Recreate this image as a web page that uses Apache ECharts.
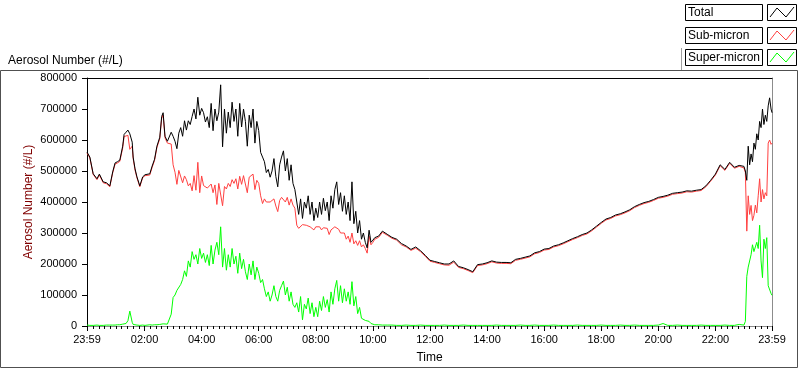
<!DOCTYPE html>
<html>
<head>
<meta charset="utf-8">
<title>Aerosol Number</title>
<script src="https://cdn.jsdelivr.net/npm/echarts@6.0.0/dist/echarts.min.js"></script>
<style>
  html, body { margin: 0; padding: 0; background: #fff; }
  #chart { width: 800px; height: 369px; }
</style>
</head>
<body>
<div id="chart"></div>
<script>
// time of each sample, minutes after midnight (-1 = 23:59 of the day before)
const minutes = [
  -1, 5, 12, 20, 25, 33, 40, 47, 53, 58,
  63, 68, 74, 77, 81, 85, 89, 94, 96, 100,
  104, 110, 116, 121, 125, 131, 136, 141, 146, 152,
  156, 159, 163, 168,
  172, 176, 180, 184, 188, 192, 196, 200, 204, 208,
  212, 216, 220, 224, 228, 232, 236, 240, 244, 248,
  252, 256, 260, 264, 268, 272, 276, 280, 284, 288,
  292, 296, 300, 304, 308, 312, 316, 320, 324, 328,
  332, 336, 340, 344, 348, 352, 356, 360, 364, 368,
  372, 376, 380, 384, 388, 392, 396, 400, 404, 408,
  412, 416, 420, 424, 428, 432, 436, 440, 444, 448,
  452, 456, 460, 464, 468, 472, 476, 480, 484, 488,
  492, 496, 500, 504, 508, 512, 516, 520, 524, 528,
  532, 536, 540, 544, 548, 552, 556, 560, 564, 568,
  572, 576, 580, 584, 588, 592, 596, 600, 604, 608,
  612, 616, 620,
  630, 640, 650, 660, 670, 680, 690, 700, 710, 720,
  730, 740, 750, 760, 770, 780, 790, 800, 810, 820,
  830, 840, 850, 860, 870, 880, 890, 900, 910, 920,
  930, 940, 950, 960, 970, 980, 990, 1000, 1010, 1020,
  1030, 1040, 1050, 1060, 1070, 1080, 1090, 1100, 1110, 1120,
  1130, 1140, 1150, 1160, 1170, 1180, 1190, 1200, 1210, 1220,
  1230, 1240, 1250, 1260, 1270, 1280, 1290, 1300, 1310, 1320,
  1330, 1340, 1350, 1360, 1370, 1380,
  1383, 1386, 1389, 1392, 1395, 1398, 1401, 1404, 1407, 1410,
  1413, 1416, 1419, 1422, 1425, 1428, 1431, 1434, 1437, 1439
];

// values in thousands of particles per litre
const totalK = [
  561, 545, 491, 475, 490, 465, 462, 452, 497, 526,
  530, 535, 580, 618, 625, 632, 620, 593, 545, 507,
  481, 452, 481, 488, 491, 491, 516, 538, 580, 609,
  676, 688, 612, 596,
  602, 625, 612, 596, 572, 622, 640, 612, 662, 632,
  662, 650, 676, 700, 668, 738, 680, 702, 688, 658,
  675, 640, 718, 630, 700, 662, 690, 778, 578, 700,
  622, 690, 640, 722, 660, 700, 612, 718, 642, 700,
  660, 580, 680, 640, 700, 590, 660, 630, 560, 545,
  530, 495, 505, 480, 500, 540, 482, 449, 520, 545,
  565, 500, 540, 470, 520, 460, 440, 400, 360, 410,
  347, 400, 380, 420, 360, 400, 340, 380, 350, 400,
  360, 412, 372, 400, 340, 420, 380, 440, 465, 392,
  430, 370, 420, 360, 400, 340, 465, 330, 370, 300,
  340, 280, 300, 270, 252, 309, 270, 277, 285, 282,
  290, 292, 306,
  296, 286, 280, 266, 258, 247, 255, 243, 228, 212,
  208, 204, 200, 200, 210, 192, 188, 182, 175, 198,
  200, 204, 210, 206, 205, 205, 204, 215, 218, 222,
  226, 236, 240, 248, 250, 258, 262, 268, 275, 282,
  288, 295, 300, 310, 322, 334, 345, 350, 358, 362,
  368, 375, 385, 392, 398, 402, 408, 415, 418, 422,
  428, 430, 432, 436, 435, 438, 440, 452, 470, 490,
  520, 505, 528, 512, 518, 515,
  500, 470, 580, 520, 555, 530, 590, 570, 620, 600,
  660, 640, 700, 650, 680, 660, 710, 736, 700, 688
];

const subMicronK = [
  558, 542, 489, 472, 487, 462, 459, 449, 494, 522,
  526, 531, 574, 611, 617, 615, 570, 580, 540, 503,
  478, 449, 478, 485, 488, 487, 512, 534, 576, 604,
  670, 681, 607, 590,
  592, 587, 520, 496, 457, 502, 506, 462, 484, 472,
  452, 460, 436, 485, 438, 528, 430, 484, 453, 453,
  445, 445, 458, 430, 455, 392, 460, 458, 388, 450,
  442, 460, 450, 472, 460, 475, 442, 483, 457, 485,
  485, 430, 480, 475, 490, 440, 470, 460, 420, 395,
  410, 400, 395, 400, 400, 410, 387, 369, 405, 415,
  420, 400, 415, 390, 410, 390, 380, 325, 315, 315,
  327, 330, 325, 330, 320, 325, 310, 320, 320, 320,
  310, 317, 312, 315, 295, 310, 310, 320, 318, 312,
  300, 295, 300, 280, 290, 270, 300, 265, 275, 260,
  275, 255, 262, 250, 235, 290, 262, 270, 280, 277,
  286, 288, 302,
  293, 283, 277, 262, 255, 244, 251, 240, 225, 209,
  205, 201, 197, 196, 206, 189, 185, 179, 172, 195,
  197, 201, 207, 203, 202, 202, 201, 212, 215, 219,
  223, 233, 237, 245, 247, 255, 259, 265, 272, 279,
  285, 292, 297, 307, 319, 331, 342, 347, 355, 359,
  365, 372, 382, 389, 395, 399, 405, 412, 415, 419,
  425, 427, 429, 433, 432, 435, 437, 449, 467, 487,
  517, 502, 525, 509, 515, 510,
  495, 306, 420, 360, 389, 340, 357, 390, 365, 420,
  475, 400, 440, 410, 430, 420, 590, 600, 586, 590
];

const superMicronK = [
  3, 2, 2, 3, 2, 2, 3, 3, 3, 3,
  4, 4, 6, 7, 8, 17, 48, 12, 5, 3,
  3, 2, 3, 2, 3, 4, 3, 4, 4, 5,
  6, 7, 5, 6,
  10, 38, 92, 100, 115, 120, 134, 150, 178, 160,
  210, 190, 240, 215, 230, 200, 250, 218, 235, 205,
  230, 195, 260, 200, 245, 270, 230, 320, 190, 250,
  180, 230, 190, 250, 200, 225, 170, 235, 185, 215,
  175, 150, 200, 165, 210, 150, 190, 170, 140, 150,
  120, 95, 110, 80, 100, 130, 95, 80, 115, 130,
  145, 100, 125, 80, 110, 70, 60, 75, 45, 95,
  20, 70, 55, 90, 40, 75, 30, 60, 30, 80,
  50, 95, 60, 85, 45, 110, 70, 120, 147, 80,
  130, 75, 120, 80, 110, 70, 143, 65, 95, 40,
  60, 25, 30, 18, 12, 15, 8, 6, 4, 5,
  4, 3, 3,
  3, 3, 2, 2, 3, 2, 2, 3, 2, 2,
  2, 2, 3, 2, 2, 2, 3, 2, 2, 2,
  2, 2, 2, 3, 2, 2, 2, 2, 3, 2,
  2, 3, 2, 2, 2, 3, 2, 2, 2, 2,
  3, 2, 2, 2, 2, 3, 2, 2, 2, 3,
  2, 2, 3, 2, 2, 2, 2, 3, 8, 2,
  2, 3, 2, 2, 2, 2, 3, 2, 2, 2,
  2, 3, 2, 2, 5, 3,
  15, 160, 190, 185, 230, 262, 240, 255, 270, 250,
  325, 210, 156, 280, 250, 285, 130, 124, 105, 99
];

// x axis labels (minutes) and y range
const timeLabels = [-1, 120, 240, 360, 480, 600, 720, 840, 960, 1080, 1200, 1320, 1439];
const yMax = 800000;
const yStep = 100000;

const seriesNames = ['Total', 'Sub-micron', 'Super-micron'];
const seriesColors = ['#000000', '#ff4040', '#00ff00'];

// every 12 minutes between the labelled ticks
const allTicks = [-1];
for (let m = 12; m < 1439; m += 12) allTicks.push(m);
allTicks.push(1439);

function pad(n) { return (n < 10 ? '0' : '') + n; }
function timeText(v) {
    if (v < 0 || v >= 1439) return '23:59';
    return pad(Math.floor(v / 60)) + ':' + pad(v % 60);
}
function pairs(vals) {
    return minutes.map((t, i) => [t, vals[i] * 1000]);
}

const font = 'Liberation Sans, Arial, sans-serif';
const chart = echarts.init(document.getElementById('chart'));

// legend drawn as LabVIEW-like boxes
const legendTops = [4, 27, 49];
const legendGraphics = [];
seriesNames.forEach((name, i) => {
    const top = legendTops[i];
    legendGraphics.push(
        { type: 'rect', shape: { x: 685.5, y: top + 0.5, width: 77, height: 16 },
          style: { fill: '#fff', stroke: '#000', lineWidth: 1 } },
        { type: 'text', x: 688, y: top + 9,
          style: { text: name, fill: '#000', font: '12px ' + font, verticalAlign: 'middle' } },
        { type: 'rect', shape: { x: 767.5, y: top + 0.5, width: 29, height: 16 },
          style: { fill: '#fff', stroke: '#000', lineWidth: 1 } },
        { type: 'polyline', shape: { points: [[770, top + 13], [777, top + 4], [786, top + 13], [794, top + 3]] },
          style: { stroke: seriesColors[i], lineWidth: 1, fill: null } }
    );
});

const option = {
    animation: false,
    backgroundColor: '#fff',
    title: {
        text: 'Aerosol Number (#/L)',
        left: 3, top: 50,
        textStyle: { fontSize: 12, fontWeight: 'normal', color: '#000', fontFamily: font }
    },
    grid: { left: 87, right: 28, top: 78, bottom: 40 },
    graphic: [
        { type: 'rect', z: -1, shape: { x: 0.5, y: 70.5, width: 797, height: 297 },
          style: { fill: null, stroke: '#505050', lineWidth: 1 } },
        { type: 'line', shape: { x1: 681.5, y1: 48, x2: 681.5, y2: 70 },
          style: { stroke: '#a0a0a0', lineWidth: 1 } }
    ].concat(legendGraphics),
    xAxis: [
        {
            type: 'value', min: -1, max: 1439, position: 'bottom',
            name: 'Time', nameLocation: 'middle', nameGap: 26, nameMoveOverlap: false,
            nameTextStyle: { fontSize: 12, color: '#000', fontFamily: font },
            axisLine: { onZero: false, lineStyle: { color: '#8c8c8c', width: 1 } },
            axisTick: { length: 3, customValues: allTicks, lineStyle: { color: '#000' } },
            axisLabel: { customValues: timeLabels, formatter: timeText, margin: 8,
                         fontSize: 11, color: '#000', fontFamily: font },
            splitLine: { show: false }
        },
        {
            type: 'value', min: -1, max: 1439, position: 'bottom',
            axisLine: { show: true, onZero: false, lineStyle: { color: '#8c8c8c', width: 1 } },
            axisTick: { length: 5, customValues: timeLabels, lineStyle: { color: '#000' } },
            axisLabel: { show: false, customValues: timeLabels },
            splitLine: { show: false }
        },
        {
            type: 'value', min: -1, max: 1439, position: 'top',
            axisLine: { onZero: false, lineStyle: { color: '#000', width: 1 } },
            axisTick: { show: false }, axisLabel: { show: false }, splitLine: { show: false }
        }
    ],
    yAxis: [
        {
            type: 'value', min: 0, max: yMax, interval: yStep, position: 'left',
            name: 'Aerosol Number (#/L)', nameLocation: 'middle', nameGap: 52, nameMoveOverlap: false,
            nameTextStyle: { fontSize: 12, color: '#800000', fontFamily: font },
            axisLine: { onZero: false, lineStyle: { color: '#000', width: 1 } },
            axisTick: { length: 5, lineStyle: { color: '#000' } },
            axisLabel: { formatter: v => String(v), margin: 10, fontSize: 11, color: '#000', fontFamily: font },
            splitLine: { show: false }
        },
        {
            type: 'value', min: 0, max: yMax, position: 'right',
            axisLine: { show: true, onZero: false, lineStyle: { color: '#8c8c8c', width: 1 } },
            axisTick: { show: false }, axisLabel: { show: false }, splitLine: { show: false }
        }
    ],
    series: [
        { name: seriesNames[2], type: 'line', data: pairs(superMicronK), symbol: 'none',
          lineStyle: { width: 1, color: seriesColors[2] }, itemStyle: { color: seriesColors[2] } },
        { name: seriesNames[1], type: 'line', data: pairs(subMicronK), symbol: 'none',
          lineStyle: { width: 1, color: seriesColors[1] }, itemStyle: { color: seriesColors[1] } },
        { name: seriesNames[0], type: 'line', data: pairs(totalK), symbol: 'none',
          lineStyle: { width: 1, color: seriesColors[0] }, itemStyle: { color: seriesColors[0] } }
    ]
};

chart.setOption(option);
</script>
</body>
</html>
